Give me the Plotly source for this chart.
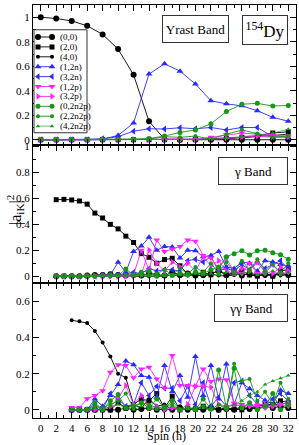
import plotly.graph_objects as go

# ---------------- data ----------------
series_names = ["(0,0)", "(2,0)", "(4,0)", "(1,2n)", "(3,2n)", "(1,2p)", "(3,2p)",
                "(0,2n2p)", "(2,2n2p)", "(4,2n2p)"]

yrast_spin = list(range(0, 33, 2))
yrast_00 = [1.0, 0.99, 0.97, 0.93, 0.86, 0.74, 0.53, 0.15, 0.005, 0, 0, 0, 0, 0, 0, 0, 0]
yrast_20 = [0, 0, 0, 0, 0, 0, 0, 0, 0, 0, 0.003, 0.008, 0.012, 0.02, 0.03, 0.055, 0.065]
yrast_40 = [0, 0, 0, 0, 0, 0, 0, 0, 0, 0, 0, 0.003, 0.008, 0.015, 0.025, 0.035, 0.045]
yrast_12n = [0, 0, 0, 0, 0.005, 0.035, 0.137, 0.536, 0.62, 0.56, 0.455, 0.318, 0.293, 0.277, 0.237, 0.183, 0.151]
yrast_32n = [0, 0, 0, 0, 0.008, 0.025, 0.07, 0.09, 0.088, 0.098, 0.09, 0.1, 0.08, 0.10, 0.10, 0.025, 0.02]
yrast_12p = [0, 0, 0, 0, 0, 0, 0, 0, 0, 0, 0.004, 0.02, 0.04, 0.055, 0.045, 0.035, 0.03]
yrast_32p = [0, 0, 0, 0, 0, 0, 0, 0, 0, 0, 0, 0.005, 0.012, 0.02, 0.03, 0.02, 0.025]
yrast_02n2p = [0, 0, 0, 0, 0, 0.002, 0.005, 0.01, 0.03, 0.06, 0.08, 0.13, 0.23, 0.29, 0.297, 0.275, 0.28]
yrast_22n2p = [0, 0, 0, 0, 0, 0, 0, 0.005, 0.025, 0.02, 0.03, 0.005, 0.045, 0.08, 0.05, 0.02, 0.03]
yrast_42n2p = [0, 0, 0, 0, 0, 0, 0, 0, 0, 0, 0.003, 0.008, 0.015, 0.025, 0.04, 0.055, 0.085]

gamma_spin = list(range(2, 33))
gamma_00 = [0, 0, 0, 0, 0.005, 0.01, 0.01, 0.015, 0.01, 0.005, 0.01, 0.005, 0.02, 0.01, 0.005, 0.03,
            0.01, 0.02, 0.005, 0.01, 0.02, 0.04, 0.01, 0.03, 0.005, 0.02, 0.01, 0.015, 0.005, 0.02, 0.01]
gamma_20 = [0.59, 0.593, 0.588, 0.58, 0.556, 0.487, 0.449, 0.40, 0.365, 0.309, 0.26, 0.174, 0.146, 0.10,
            0.128, 0.138, 0.08, 0.02, 0.01, 0.03, 0.01, 0.05, 0.01, 0.02, 0.04, 0.01, 0.0, 0.02, 0.0, 0.04, 0.05]
gamma_40 = [0, 0, 0, 0, 0, 0, 0, 0, 0, 0, 0, 0, 0, 0.005, 0, 0.01, 0, 0.005, 0.01, 0, 0.015, 0.005,
            0, 0.01, 0.02, 0.005, 0.01, 0, 0.015, 0.005, 0.01]
gamma_12n = [0, 0, 0, 0, 0, 0.005, 0.01, 0.01, 0.107, 0.03, 0.19, 0.232, 0.30, 0.20, 0.23, 0.225,
             0.14, 0.2, 0.197, 0.15, 0.16, 0.19, 0.07, 0.06, 0.11, 0.10, 0.04, 0.12, 0.11, 0.09, 0.08]
gamma_32n = [0, 0, 0, 0, 0, 0, 0.005, 0.01, 0.01, 0.02, 0.03, 0.02, 0.06, 0.04, 0.05, 0.05, 0.04,
             0.12, 0.13, 0.11, 0.15, 0.04, 0.06, 0.04, 0.09, 0.05, 0.11, 0.06, 0.09, 0.12, 0.05]
gamma_12p = [0, 0, 0, 0, 0, 0, 0, 0, 0, 0, 0.01, 0.2, 0.05, 0.28, 0.19, 0.21, 0.23, 0.28, 0.27,
             0.16, 0.14, 0.06, 0.14, 0.03, 0.02, 0.10, 0.02, 0.02, 0.09, 0.02, 0.03]
gamma_32p = [0, 0, 0, 0, 0, 0, 0, 0, 0, 0, 0, 0.01, 0.2, 0.1, 0.04, 0.11, 0.07, 0.10, 0.04, 0.15,
             0.08, 0.12, 0.04, 0.02, 0.06, 0.04, 0.11, 0.03, 0.02, 0.07, 0.04]
gamma_02n2p = [0, 0, 0, 0, 0, 0, 0.005, 0.01, 0.005, 0.055, 0.01, 0.03, 0.04, 0.0, 0.01, 0.005,
               0.02, 0.01, 0.03, 0.02, 0.05, 0.07, 0.15, 0.174, 0.197, 0.164, 0.197, 0.20, 0.18, 0.165, 0.13]
gamma_22n2p = [0, 0, 0, 0, 0, 0, 0, 0, 0, 0.01, 0.005, 0.02, 0.01, 0.02, 0.05, 0.01, 0.06, 0.02,
               0.07, 0.03, 0.1, 0.02, 0.11, 0.03, 0.12, 0.05, 0.13, 0.04, 0.09, 0.03, 0.10]
gamma_42n2p = [0, 0, 0, 0, 0, 0, 0, 0, 0, 0, 0, 0, 0, 0.005, 0.01, 0, 0.01, 0.005, 0.02, 0.01,
               0.02, 0.005, 0.03, 0.01, 0.02, 0.03, 0.01, 0.02, 0.04, 0.01, 0.03]

gg_spin = list(range(4, 33))
gg_00 = [0, 0, 0, 0, 0.005, 0, 0.0, 0.01, 0, 0.005, 0.01, 0, 0.005, 0, 0.01, 0, 0.005, 0, 0.01, 0,
         0.005, 0, 0.01, 0.005, 0.01, 0.02, 0.01, 0.02, 0.01]
gg_20 = [0, 0, 0, 0, 0, 0, 0.04, 0.01, 0.03, 0.06, 0.05, 0.09, 0.01, 0.075, 0.0, 0.01, 0.005, 0.02,
         0.01, 0.0, 0.01, 0.005, 0.0, 0.01, 0.02, 0.03, 0.03, 0.05, 0.04]
gg_40 = [0.496, 0.49, 0.48, 0.436, 0.372, 0.295, 0.2, 0.177, 0.03, 0.01, 0.06, 0.02, 0.03, 0.0, 0.02,
         0.0, 0.01, 0.0, 0.02, 0.0, 0.01, 0.0, 0.02, 0.01, 0.02, 0.03, 0.02, 0.04, 0.03]
gg_12n = [0, 0, 0.0, 0.06, 0.02, 0.08, 0.14, 0.27, 0.25, 0.19, 0.18, 0.07, 0.245, 0.10, 0.19, 0.07,
          0.295, 0.08, 0.245, 0.06, 0.254, 0.03, 0.15, 0.117, 0.08, 0.053, 0.03, 0.108, 0.09]
gg_32n = [0, 0, 0, 0.03, 0.0, 0.09, 0.06, 0.02, 0.03, 0.15, 0.08, 0.13, 0.12, 0.12, 0.05, 0.13, 0.03,
          0.15, 0.02, 0.07, 0.02, 0.15, 0.16, 0.08, 0.03, 0.02, 0.06, 0.09, 0.05]
gg_12p = [0.013, 0.013, 0.062, 0.08, 0.106, 0.208, 0.25, 0.245, 0.177, 0.226, 0.235, 0.17, 0.12, 0.30,
          0.135, 0.135, 0.13, 0.226, 0.157, 0.17, 0.166, 0.037, 0.03, 0.02, 0.02, 0.01, 0.02, 0.03, 0.02]
gg_32p = [0, 0, 0, 0, 0, 0.02, 0.06, 0.135, 0.03, 0.08, 0.01, 0.02, 0.0, 0.01, 0.0, 0.03, 0.13, 0.13,
          0.125, 0.03, 0.02, 0.03, 0.02, 0.025, 0.03, 0.03, 0.02, 0.03, 0.04]
gg_02n2p = [0, 0, 0, 0.04, 0.0, 0.05, 0.085, 0.01, 0.02, 0.04, 0.01, 0.06, 0.01, 0.05, 0.0, 0.01, 0.0,
            0.06, 0.005, 0.22, 0.01, 0.23, 0.01, 0.04, 0.0, 0.02, 0.09, 0.0, 0.03]
gg_22n2p = [0, 0, 0, 0.02, 0.01, 0.03, 0.05, 0.09, 0.01, 0.04, 0.03, 0.01, 0.02, 0.03, 0.0, 0.01, 0.01,
            0.02, 0.0, 0.03, 0.0, 0.255, 0.16, 0.17, 0.05, 0.1, 0.03, 0.15, 0.06]
gg_42n2p = [0, 0, 0, 0.01, 0.0, 0.02, 0.03, 0.01, 0.0, 0.02, 0.01, 0.0, 0.01, 0.02, 0.0, 0.01, 0.0,
            0.01, 0.0, 0.03, 0.01, 0.03, 0.05, 0.08, 0.10, 0.14, 0.16, 0.175, 0.19]

panels = [
    ("x", "y", yrast_spin, [yrast_00, yrast_20, yrast_40, yrast_12n, yrast_32n, yrast_12p, yrast_32p,
                            yrast_02n2p, yrast_22n2p, yrast_42n2p]),
    ("x2", "y2", gamma_spin, [gamma_00, gamma_20, gamma_40, gamma_12n, gamma_32n, gamma_12p, gamma_32p,
                              gamma_02n2p, gamma_22n2p, gamma_42n2p]),
    ("x3", "y3", gg_spin, [gg_00, gg_20, gg_40, gg_12n, gg_32n, gg_12p, gg_32p,
                           gg_02n2p, gg_22n2p, gg_42n2p]),
]

# ---------------- styles ----------------
BLACK, BLUE, MAG, GREEN = "#000000", "#2a2aff", "#ff22ff", "#179617"
colors = [BLACK, BLACK, BLACK, BLUE, BLUE, MAG, MAG, GREEN, GREEN, GREEN]
symbols = ["circle", "square", "circle", "triangle-up", "triangle-left", "triangle-down",
           "triangle-right", "circle", "circle", "triangle-up"]
sizes = [6, 5, 4, 6, 6, 6, 6, 5, 4, 4]
lwidths = [0.9, 0.9, 0.9, 0.9, 0.9, 0.9, 0.9, 0.9, 0.9, 0.6]

FONT = "Liberation Serif"
fig = go.Figure()

for xa, ya, spins, vals in panels:
    for i, v in enumerate(vals):
        fig.add_trace(go.Scatter(
            x=spins, y=v, xaxis=xa, yaxis=ya, mode="lines+markers",
            line=dict(color=colors[i], width=lwidths[i]),
            marker=dict(symbol=symbols[i], size=sizes[i], color=colors[i], line=dict(width=0)),
            showlegend=False, name=series_names[i], cliponaxis=False))

# custom compact legend drawn on an auxiliary axis
for i, nm in enumerate(series_names):
    fig.add_trace(go.Scatter(
        x=[0.075, 0.34], y=[i, i], xaxis="x4", yaxis="y4", mode="lines+markers",
        line=dict(color=colors[i], width=lwidths[i]),
        marker=dict(symbol=symbols[i], size=sizes[i], color=colors[i], line=dict(width=0)),
        showlegend=False, hoverinfo="skip"))
    fig.add_annotation(x=0.45, y=i, xref="x4", yref="y4", text=nm, showarrow=False,
                       xanchor="left", yanchor="middle", font=dict(family=FONT, size=9, color="black"))

fig.add_shape(type="rect", xref="x4 domain", yref="y4 domain", x0=0, x1=1, y0=0, y1=1,
              line=dict(color="#333", width=1))

H_TOTAL = 417.0
def pdom(top_px, bot_px):
    return [(418 - bot_px) / H_TOTAL, (418 - top_px) / H_TOTAL]

xcommon = dict(range=[-1, 33], showline=True, linecolor="black", linewidth=1, mirror="allticks",
               ticks="inside", ticklen=6, tickcolor="black", tickwidth=1, dtick=2, tick0=0,
               minor=dict(ticks="inside", ticklen=3, dtick=1, tickcolor="black"),
               showgrid=False, zeroline=False,
               tickfont=dict(family=FONT, size=11, color="black"))
ycommon = dict(showline=True, linecolor="black", linewidth=1, mirror="allticks",
               ticks="inside", ticklen=6, tickcolor="black", tickwidth=1, dtick=0.2, tick0=0,
               minor=dict(ticks="inside", ticklen=3, dtick=0.1, tickcolor="black"),
               showgrid=False, zeroline=False,
               tickfont=dict(family=FONT, size=11, color="black"))

fig.update_layout(
    width=299, height=445,
    margin=dict(l=33, r=3, t=1, b=27),
    paper_bgcolor="white", plot_bgcolor="white",
    xaxis=dict(xcommon, anchor="y", showticklabels=False),
    xaxis2=dict(xcommon, anchor="y2", showticklabels=False),
    xaxis3=dict(xcommon, anchor="y3", showticklabels=True),
    yaxis=dict(ycommon, domain=pdom(1, 142), range=[-0.04, 1.1], anchor="x"),
    yaxis2=dict(ycommon, domain=pdom(142, 282), range=[-0.055, 1.015], anchor="x2"),
    yaxis3=dict(ycommon, domain=pdom(282, 418), range=[-0.045, 0.70], anchor="x3"),
    xaxis4=dict(domain=[(34 - 33) / 263, (87 - 33) / 263], range=[0, 1], visible=False,
                anchor="y4", fixedrange=True),
    yaxis4=dict(domain=pdom(26, 130), range=[9.67, -0.73], visible=False,
                anchor="x4", fixedrange=True),
    showlegend=False,
)

def box(text, cx_px, cy_px, w, h, size):
    fig.add_annotation(x=(cx_px - 33) / 263, y=(418 - cy_px) / H_TOTAL, xref="paper", yref="paper",
                       text=text, showarrow=False, xanchor="center", yanchor="middle",
                       width=w, height=h, borderpad=0, bordercolor="#333", borderwidth=1,
                       bgcolor="white", font=dict(family=FONT, size=size, color="black"))

box("Yrast Band", 195.5, 25, 65, 26, 13)
box("<sup>154</sup>Dy", 265, 26, 44, 28, 17)
box("γ Band", 253, 169, 68, 26, 13)
box("γγ Band", 251, 307, 72, 26, 13)

fig.add_annotation(x=(15 - 33) / 263, y=(418 - 208) / H_TOTAL, xref="paper", yref="paper",
                   text="|a<sub>iK</sub>|<sup>2</sup>", showarrow=False, textangle=-90,
                   xanchor="center", yanchor="middle",
                   font=dict(family=FONT, size=16, color="black"))
fig.add_annotation(x=(166 - 33) / 263, y=(418 - 445) / H_TOTAL, xref="paper", yref="paper",
                   text="Spin (ħ)", showarrow=False, xanchor="center", yanchor="bottom",
                   font=dict(family=FONT, size=12, color="black"))

fig.write_html("out.html", config={"displayModeBar": False},
               post_script="document.body.style.margin='0';document.body.style.overflow='hidden';")
